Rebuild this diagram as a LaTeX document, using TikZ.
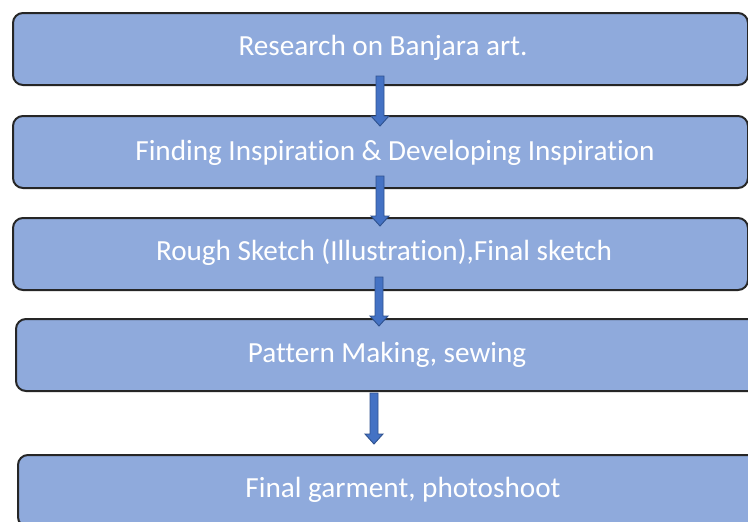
\documentclass[tikz,border=0pt]{standalone}
\usepackage{fontspec}
\setmainfont{Carlito}[Ligatures={NoCommon,NoRare,NoContextual}]
\usetikzlibrary{calc}
\definecolor{boxblue}{HTML}{8FAADC}
\definecolor{boxline}{HTML}{262626}
\definecolor{arrfill}{HTML}{4472C4}
\definecolor{arrline}{HTML}{2F528F}
\newcommand\blockarr[2]{%
  \filldraw[fill=arrfill,draw=arrline,line width=0.9pt,line join=miter]
    ($(#1)+(-4,0)$) -- ($(#2)+(-4,-10)$) -- ($(#2)+(-9,-10)$) -- (#2)
    -- ($(#2)+(9,-10)$) -- ($(#2)+(4,-10)$) -- ($(#1)+(4,0)$) -- cycle;}
\begin{document}
\begin{tikzpicture}[x=1pt,y=-1pt,
  box/.style={draw=boxline,fill=boxblue,line width=2pt,rounded corners=10pt,
    anchor=north west,minimum height=72pt,inner sep=0pt},
  txt/.style={text=white,font=\fontsize{29.2}{33}\selectfont,anchor=base,inner sep=0pt}]
\useasboundingbox (0,0) rectangle (748,522);
\clip (0,0) rectangle (748,522);
\fill[white] (0,0) rectangle (748,522);
% boxes
\node[box,minimum width=735pt] (b1) at (12,12) {};
\node[box,minimum width=735pt] (b2) at (12,115) {};
\node[box,minimum width=735pt] (b3) at (12,217) {};
\node[box,minimum width=760pt] (b4) at (15,318) {};
\node[box,minimum width=780pt] (b5) at (17,454) {};
% texts
\node[txt] (t1) at (383,55) {Research on Banjara art.};
\node[txt] (t2) at (395,160) {Finding Inspiration \& Developing Inspiration};
\node[txt] (t3) at (384,260) {Rough Sketch (Illustration),Final sketch};
\node[txt] (t4) at (387,362) {Pattern Making, sewing};
\node[txt] (t5) at (403,497) {Final garment, photoshoot};
% arrows
\coordinate (a1s) at (380,76);  \coordinate (a1e) at (380,126);
\coordinate (a2s) at (380,176); \coordinate (a2e) at (380,226);
\coordinate (a3s) at (379,277); \coordinate (a3e) at (379,326);
\coordinate (a4s) at (374,393); \coordinate (a4e) at (374,444);
\blockarr{a1s}{a1e}
\blockarr{a2s}{a2e}
\blockarr{a3s}{a3e}
\blockarr{a4s}{a4e}
\end{tikzpicture}
\end{document}
